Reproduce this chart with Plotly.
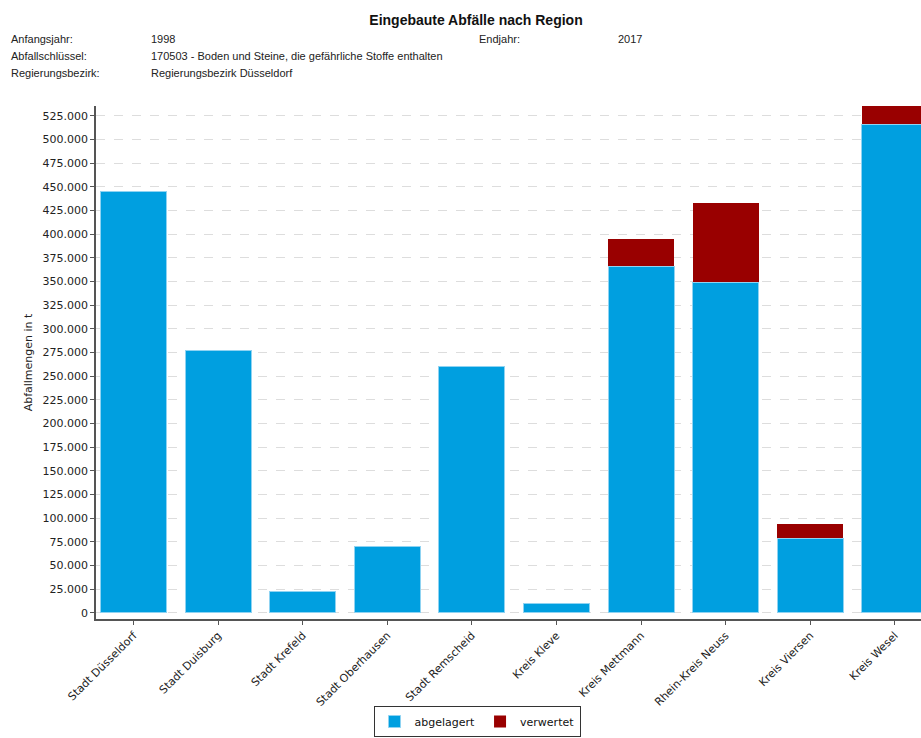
import plotly.graph_objects as go

regions = [
    'Stadt Düsseldorf', 'Stadt Duisburg', 'Stadt Krefeld', 'Stadt Oberhausen',
    'Stadt Remscheid', 'Kreis Kleve', 'Kreis Mettmann', 'Rhein-Kreis Neuss',
    'Kreis Viersen', 'Kreis Wesel',
]
abgelagert = [445000, 277000, 23000, 70500, 260000, 9500, 366000, 349000, 79000, 516000]
verwertet = [0, 0, 0, 0, 0, 0, 29000, 84000, 15000, 19000]

header_rows = [
    ('Anfangsjahr:', '1998'),
    ('Abfallschlüssel:', '170503 - Boden und Steine, die gefährliche Stoffe enthalten'),
    ('Regierungsbezirk:', 'Regierungsbezirk Düsseldorf'),
]
end_label, end_value = 'Endjahr:', '2017'

W, H = 921, 738
L, R, T, B = 96, 0, 106, 119
PW, PH = W - L - R, H - T - B

def px(x):
    return (x - L) / PW

def py(y):
    return (H - B - y) / PH

fig = go.Figure()
fig.add_trace(go.Bar(
    x=regions, y=abgelagert, name='abgelagert',
    marker=dict(color='#009FE0', line=dict(color='#8fd3f2', width=1)),
))
fig.add_trace(go.Bar(
    x=regions, y=verwertet, name='verwertet',
    marker=dict(color='#990000', line=dict(width=0)),
))

header_font = dict(family='Liberation Sans, Arial', size=11, color='#222')

def note(x, y, text):
    fig.add_annotation(x=px(x), y=py(y), text=text, showarrow=False,
                       xref='paper', yref='paper', xanchor='left', yanchor='middle',
                       font=header_font)

for (label, value), y in zip(header_rows, [39, 56, 73]):
    note(9, y, label)
    note(149, y, value)
note(477, 39, end_label)
note(616, 39, end_value)

fig.update_layout(
    width=W, height=H,
    margin=dict(l=L, r=R, t=T, b=B, pad=0, autoexpand=False),
    barmode='stack',
    bargap=0.22,
    separators=',.',
    plot_bgcolor='white',
    paper_bgcolor='white',
    font=dict(family='DejaVu Sans', size=11, color='#222'),
    title=dict(text='<b>Eingebaute Abfälle nach Region</b>',
               x=476 / W, xanchor='center', y=1 - 20 / H, yanchor='middle',
               font=dict(family='Liberation Sans, Arial', size=14, color='#111')),
    legend=dict(orientation='h', x=px(477), xanchor='center', y=py(737), yanchor='bottom',
                bordercolor='#333', borderwidth=1, bgcolor='white',
                font=dict(family='DejaVu Sans', size=11, color='#111'),
                traceorder='normal', itemwidth=30),
    showlegend=True,
)
fig.update_xaxes(
    range=[-0.444, 9.31], tickangle=-45, showgrid=False, automargin=False,
    showline=True, linecolor='#555', linewidth=1.5,
    ticks='outside', ticklen=4, tickcolor='#555',
    tickfont=dict(family='DejaVu Sans', size=11, color='#222'),
)
fig.update_yaxes(
    range=[-6500, 535400], tick0=0, dtick=25000, tickformat=',d', automargin=False,
    showgrid=True, gridcolor='#dddddd', griddash='dash', gridwidth=1,
    zeroline=False, showline=True, linecolor='#555', linewidth=1.5,
    ticks='outside', ticklen=4, tickcolor='#555',
    tickfont=dict(family='DejaVu Sans', size=11, color='#222'),
    title=dict(text='Abfallmengen in t', standoff=8,
               font=dict(family='DejaVu Sans', size=11, color='#222')),
)

# drop the browser's default body margin so the figure sits at the page corner
fig.write_html('out.html', config={'displayModeBar': False},
               post_script="document.body.style.margin='0';")
